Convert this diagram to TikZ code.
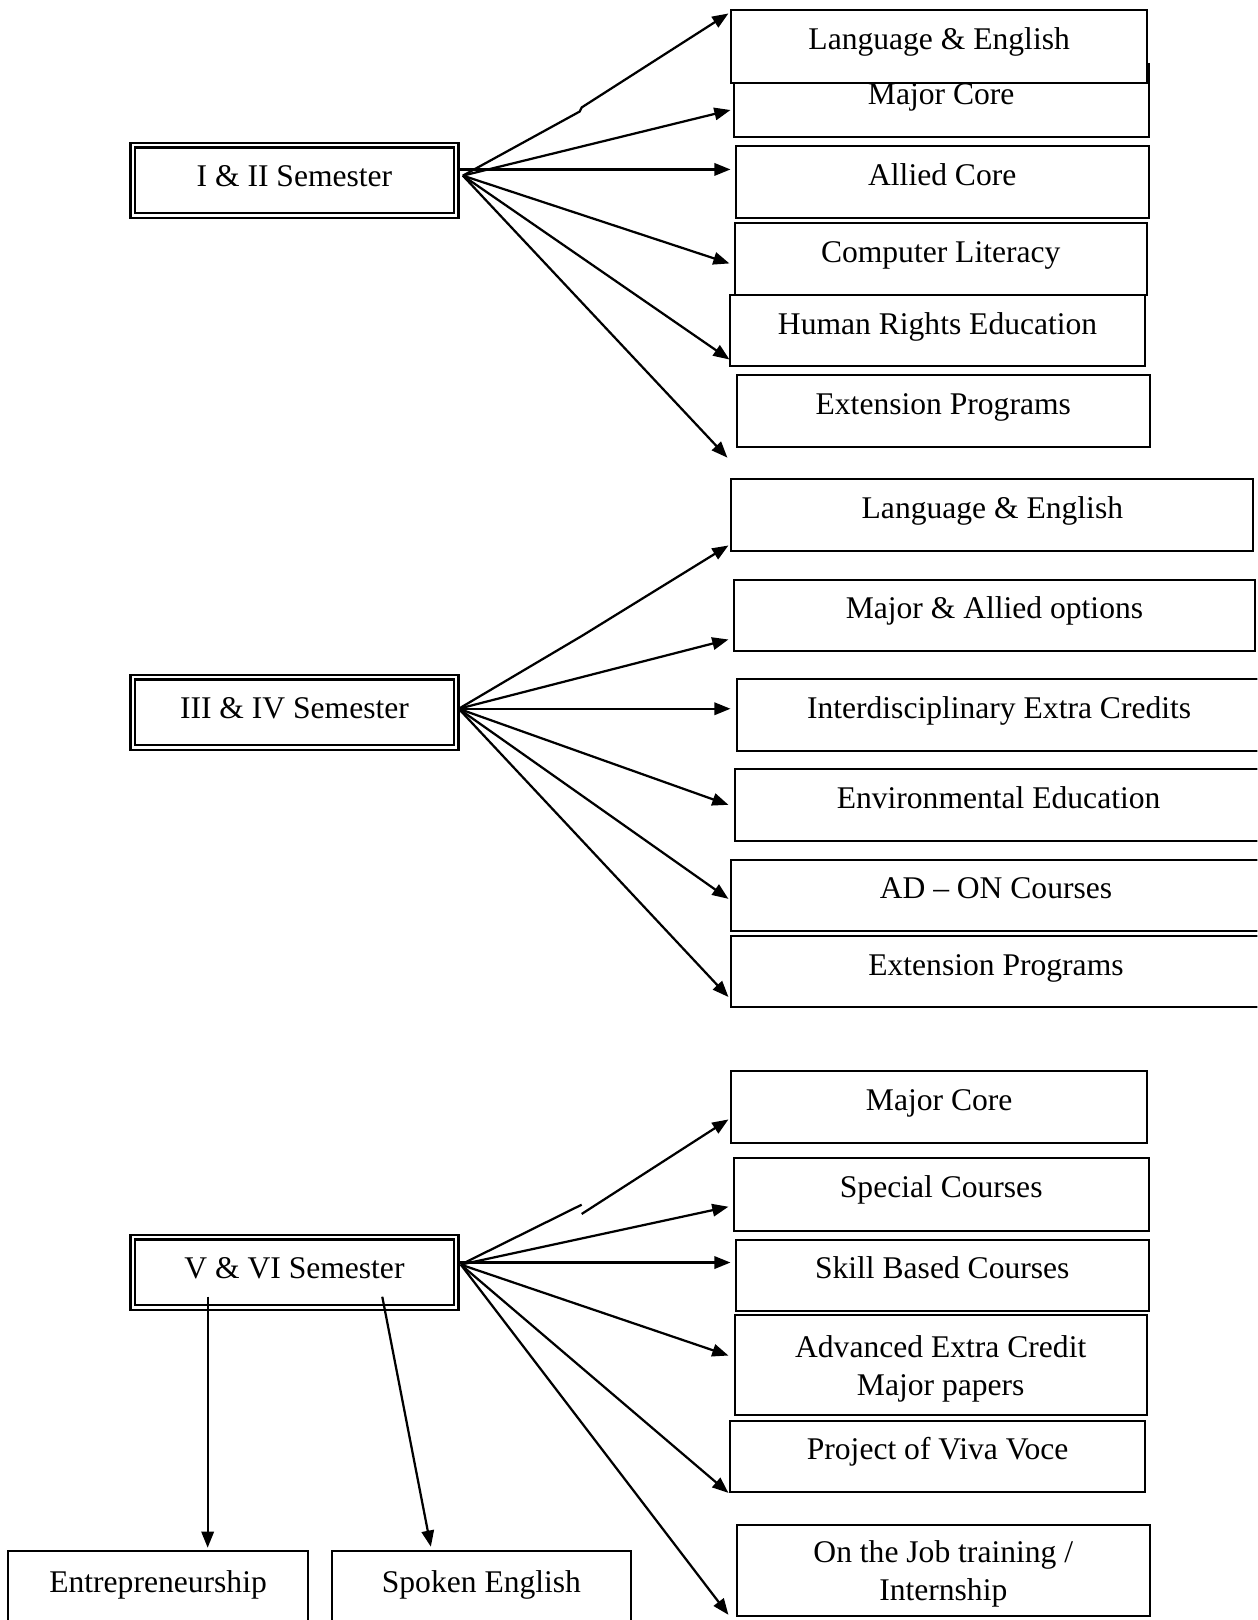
\documentclass[tikz,border=0pt]{standalone}
\usepackage{fontspec}
\setmainfont{Liberation Serif}
\usetikzlibrary{arrows.meta}
\newcommand{\px}{0.0146cm}

\begin{document}
\begin{tikzpicture}[x=\px, y=-\px, font=\fontsize{12.7}{15.3}\selectfont,
  sem/.style={draw, double, double distance=1pt, line width=0.9pt, minimum width=313*\px, minimum height=68*\px, inner sep=0pt, text height=0.7em, text depth=0.24em},
  item/.style={draw, fill=white, line width=0.8pt, minimum height=70*\px, inner sep=0pt, text height=0.7em, text depth=0.42em},
  itemtwo/.style={draw, fill=white, line width=0.8pt, inner sep=0pt, align=center, text depth=0pt},
  arr/.style={line width=0.9pt, -{Triangle[length=6.5pt,width=5pt]}}]
\useasboundingbox (0,0) rectangle (1217,1568);
\clip (0,0) rectangle (1217,1568);

% I & II
\node[sem] (s1) at (285,174.5) {I \& II Semester};
\node[item, minimum width=402*\px, minimum height=71*\px] (major1) at (911,97.5) {Major Core};
\node[item, minimum width=402*\px] (lang1) at (909,45) {Language \& English};
\node[item, minimum width=400*\px] (allied1) at (912,176) {Allied Core};
\node[item, minimum width=399*\px] (comp1) at (910.5,251) {Computer Literacy};
\node[item, minimum width=401*\px, minimum height=68*\px] (human1) at (907.5,320) {Human Rights Education};
\node[item, minimum width=400*\px] (ext1) at (913,398) {Extension Programs};
\coordinate (o1) at (448,170);
\coordinate (h1) at (445,164);
\draw[arr] (o1) -- ++(113,-62) -- ++(2,-4) -- ([shift={(-2,4)}]lang1.north west);
\draw[arr] (o1) -- ([shift={(-2,9)}]major1.west);
\draw[arr] (h1) -- ([shift={(-4,-12)}]allied1.west);
\draw[arr] (o1) -- ([shift={(-4,4)}]comp1.west);
\draw[arr] (o1) -- ([shift={(0,-7)}]human1.south west);
\draw[arr] (o1) -- ([shift={(-8,9)}]ext1.south west);

% III & IV
\node[sem] (s2) at (285,689.5) {III \& IV Semester};
\node[item, minimum width=505*\px, minimum height=69*\px] (lang2) at (960.5,498.5) {Language \& English};
\node[item, minimum width=505*\px, minimum height=69*\px] (majal2) at (962.5,595.5) {Major \& Allied options};
\node[item, minimum width=508*\px] (inter2) at (967,692) {Interdisciplinary Extra Credits};
\node[item, minimum width=511*\px] (env2) at (966.5,779) {Environmental Education};
\node[item, minimum width=512*\px, minimum height=69*\px] (adon2) at (964,866.5) {AD -- ON Courses};
\node[item, minimum width=512*\px, minimum height=69*\px] (ext2) at (964,940.5) {Extension Programs};
\coordinate (o2) at (444,686);
\draw[arr] (o2) -- ++(120,-71) -- ([shift={(-2,-6)}]lang2.south west);
\draw[arr] (o2) -- ([shift={(-4,-12)}]majal2.south west);
\draw[arr] (o2) -- ([shift={(-5,-6)}]inter2.west);
\draw[arr] (o2) -- ([shift={(-5,0)}]env2.west);
\draw[arr] (o2) -- ([shift={(-2,3.5)}]adon2.west);
\draw[arr] (o2) -- ([shift={(-2,-11)}]ext2.south west);

% V & VI
\node[sem] (s3) at (285,1231.5) {V \& VI Semester};
\node[item, minimum width=402*\px, minimum height=69*\px] (major3) at (909,1071.5) {Major Core};
\node[item, minimum width=402*\px] (spec3) at (911,1156) {Special Courses};
\node[item, minimum width=400*\px, minimum height=69*\px] (skill3) at (912,1234.5) {Skill Based Courses};
\node[itemtwo, minimum width=399*\px, minimum height=97*\px] (adv3) at (910.5,1321.5) {Advanced Extra Credit\\Major papers};
\node[item, minimum width=401*\px, minimum height=69*\px] (proj3) at (907.5,1409.5) {Project of Viva Voce};
\node[itemtwo, minimum width=400*\px, minimum height=88*\px] (job3) at (913,1520) {On the Job training /\\Internship};
\node[item, minimum width=290*\px, minimum height=74*\px] (entre) at (153,1538) {Entrepreneurship};
\node[item, minimum width=290*\px, minimum height=74*\px] (spoken) at (466,1538) {Spoken English};
\coordinate (o3) at (446,1224);
\coordinate (h3) at (445,1222);
\draw[line width=0.9pt] (o3) -- ++(117,-58);
\draw[arr] ([shift={(117,-49)}]o3) -- ([shift={(-2,12)}]major3.west);
\draw[arr] (o3) -- ([shift={(-4,12)}]spec3.west);
\draw[arr] (h3) -- ([shift={(-4,-12.5)}]skill3.west);
\draw[arr] (o3) -- ([shift={(-5,-9.5)}]adv3.west);
\draw[arr] (o3) -- ([shift={(-1,0)}]proj3.south west);
\draw[arr] (o3) -- ([shift={(-7,-2)}]job3.south west);
\draw[arr] ([shift={(-84,-11.5)}]s3.south) -- ([shift={(48,-2)}]entre.north);
\draw[arr] ([shift={(85,-11.5)}]s3.south) -- ([shift={(-49,-3)}]spoken.north);
\end{tikzpicture}
\end{document}
